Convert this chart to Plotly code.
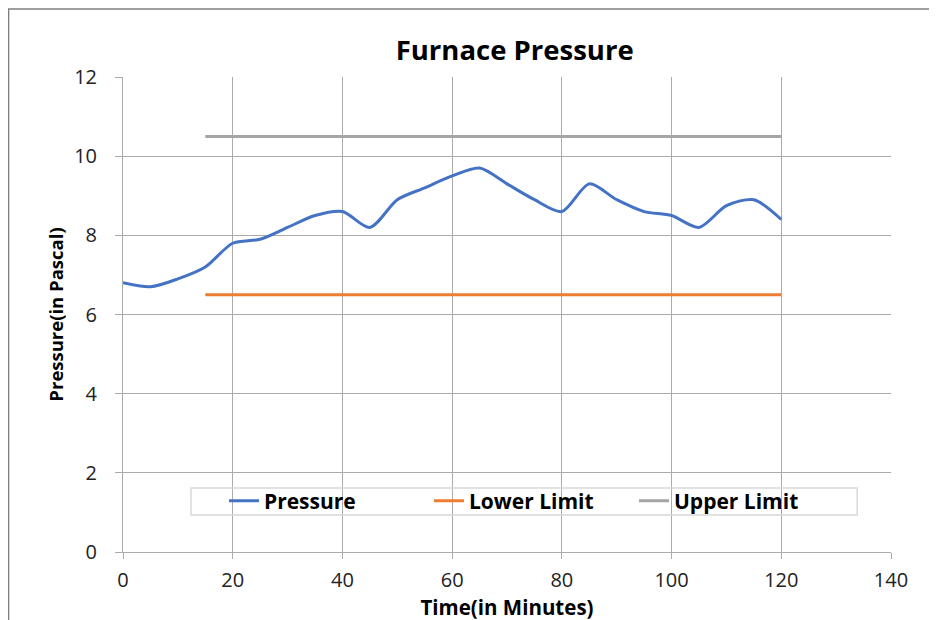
import plotly.graph_objs as go

# Данные
time_min = [0, 5, 10, 15, 20, 25, 30, 35, 40, 45, 50, 55, 60,
            65, 70, 75, 80, 85, 90, 95, 100, 105, 110, 115, 120]
pressure = [6.8, 6.7, 6.9, 7.2, 7.8, 7.9, 8.2, 8.5, 8.6, 8.2, 8.9, 9.2, 9.5,
            9.7, 9.3, 8.9, 8.6, 9.3, 8.9, 8.6, 8.5, 8.2, 8.75, 8.9, 8.4]
limit_time = [15, 120]
lower_limit = [6.5, 6.5]
upper_limit = [10.5, 10.5]

FONT = 'Open Sans'
GRID = '#ababab'

fig = go.Figure()

fig.add_trace(go.Scatter(
    x=time_min, y=pressure, name='<b>Pressure</b>', mode='lines',
    line=dict(color='#4472C4', width=3, shape='spline', smoothing=0.8)
))
fig.add_trace(go.Scatter(
    x=limit_time, y=lower_limit, name='<b>Lower Limit</b>', mode='lines',
    line=dict(color='#ED7D31', width=3)
))
fig.add_trace(go.Scatter(
    x=limit_time, y=upper_limit, name='<b>Upper Limit</b>', mode='lines',
    line=dict(color='#A5A5A5', width=3)
))

# Рамка области диаграммы
fig.add_shape(type='rect', xref='paper', yref='paper',
              x0=-0.149, x1=1.2, y0=-0.3, y1=1.143,
              line=dict(color='#7f7f7f', width=1.5), layer='below')
# Рамка легенды (легенда прозрачная, как в Excel)
fig.add_shape(type='rect', xref='paper', yref='paper',
              x0=0.0885, x1=0.956, y0=0.078, y1=0.135,
              line=dict(color='#d9d9d9', width=1.5), layer='above')

fig.update_layout(
    width=937, height=620,
    margin=dict(l=115, r=54, t=69, b=76),
    paper_bgcolor='white', plot_bgcolor='white',
    font=dict(family=FONT, color='#000000', size=19),
    title=dict(text='<b>Furnace Pressure</b>', xref='paper', x=0.51, xanchor='center',
               y=0.932, yanchor='middle', font=dict(size=27.5, family=FONT)),
    showlegend=True,
    legend=dict(orientation='h', x=0.1315, y=0.107, xanchor='left', yanchor='middle',
                bgcolor='rgba(0,0,0,0)', borderwidth=0,
                font=dict(size=21, family=FONT), itemwidth=30,
                entrywidth=160, entrywidthmode='pixels', tracegroupgap=0),
    xaxis=dict(
        range=[0, 140], dtick=20, tick0=0,
        showgrid=True, gridcolor=GRID, gridwidth=1,
        showline=True, linecolor=GRID, linewidth=1,
        ticks='outside', ticklen=6, tickcolor=GRID,
        ticklabelstandoff=4,
        zeroline=False, tickfont=dict(size=20, color='#222222'),
        title=dict(text='<b>Time(in Minutes)</b>', font=dict(size=20.5), standoff=0)
    ),
    yaxis=dict(
        range=[0, 12], dtick=2, tick0=0,
        showgrid=True, gridcolor=GRID, gridwidth=1,
        showline=True, linecolor=GRID, linewidth=1,
        ticks='outside', ticklen=7, tickcolor=GRID,
        ticklabelstandoff=14,
        zeroline=False, tickfont=dict(size=20, color='#222222'),
        title=dict(text='<b>Pressure(in Pascal)</b>', font=dict(size=18.5), standoff=5)
    ),
)

fig.write_html('out.html')
